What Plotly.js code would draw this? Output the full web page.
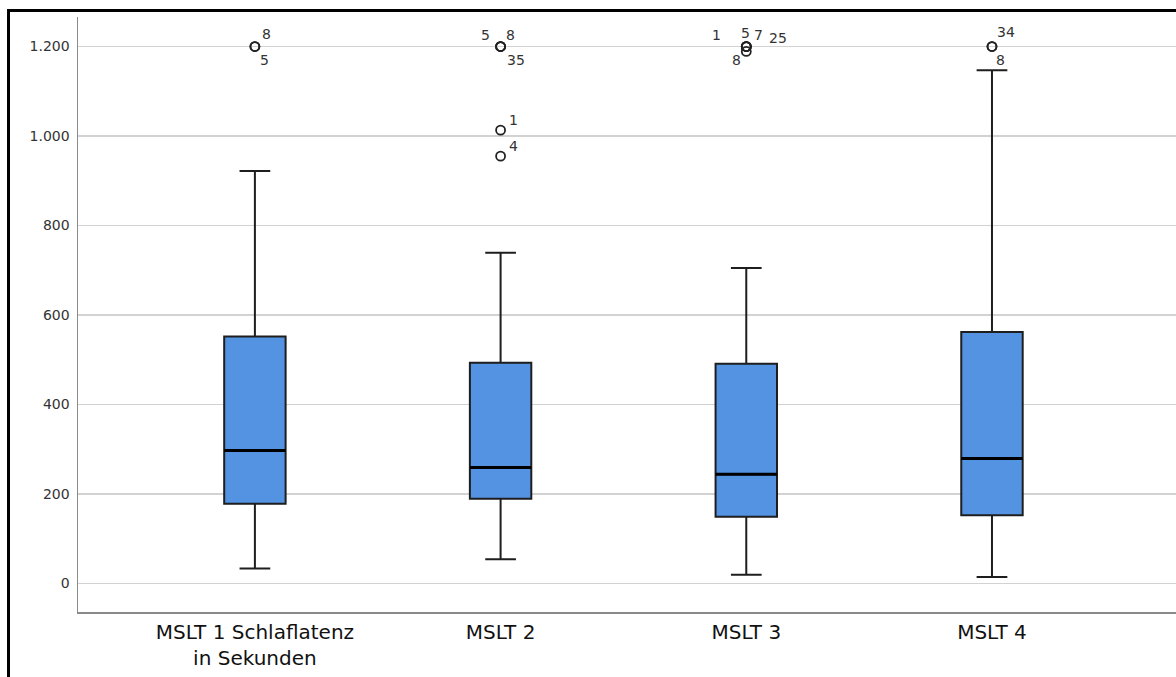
<!DOCTYPE html>
<html>
<head>
<meta charset="utf-8">
<script src="https://cdn.plot.ly/plotly-3.0.1.min.js"></script>
<style>
  html, body { margin: 0; padding: 0; background: #fff; overflow: hidden; }
  #chart { position: absolute; left: 0; top: 0; width: 1176px; height: 677px; }
  #frame { position: absolute; left: 7px; top: 9px; width: 1300px; height: 800px;
           border-left: 3px solid #000; border-top: 3px solid #000; pointer-events: none; }
</style>
</head>
<body>
<div id="chart"></div>
<div id="frame"></div>
<script>
// ---- data (seconds) ----
const categories = ["MSLT 1 Schlaflatenz<br>in Sekunden", "MSLT 2", "MSLT 3", "MSLT 4"];
const lowerWhisker = [33, 54, 19, 14];
const q1Values     = [178, 189, 149, 152];
const medianValues = [297, 259, 244, 279];
const q3Values     = [552, 493, 491, 562];
const upperWhisker = [922, 739, 705, 1147];

// outliers: category index, value, case label
const outlierCat   = [0, 0, 1, 1, 1, 1, 1, 2, 2, 2, 2, 2, 3, 3];
const outlierValue = [1200, 1200, 1200, 1200, 1200, 1013, 955, 1200, 1200, 1200, 1200, 1189, 1200, 1200];
const outlierCase  = ["8", "5", "5", "8", "35", "1", "4", "1", "5", "7", "25", "8", "34", "8"];

const yTicks = [0, 200, 400, 600, 800, 1000, 1200];

// ---- label offsets (style, pixels) ----
const labelDX = [12, 10, -15, 10, 15, 13, 13, -30, -1, 12, 32, -10, 14, 9];
const labelDY = [13, -13, 12, 12, -13, 10, 10, 12, 14, 12, 9, -9, 15, -13];

const xIdx = categories.map((c, i) => i);
const boxWidth = 0.25;

// median overlay segments
const medX = [], medY = [];
xIdx.forEach((i) => {
  medX.push(i - boxWidth / 2, i + boxWidth / 2, null);
  medY.push(medianValues[i], medianValues[i], null);
});

const boxTrace = {
  type: "box",
  x: xIdx,
  q1: q1Values,
  median: medianValues,
  q3: q3Values,
  lowerfence: lowerWhisker,
  upperfence: upperWhisker,
  width: boxWidth,
  whiskerwidth: 0.5,
  fillcolor: "#5393e2",
  line: { color: "#1e1e1e", width: 2 },
  boxpoints: false,
  hoverinfo: "skip",
  showlegend: false
};

const medianTrace = {
  type: "scatter",
  mode: "lines",
  x: medX,
  y: medY,
  line: { color: "#000", width: 3 },
  hoverinfo: "skip",
  showlegend: false
};

const outlierTrace = {
  type: "scatter",
  mode: "markers",
  x: outlierCat,
  y: outlierValue,
  marker: { symbol: "circle-open", size: 9, color: "#222", line: { width: 1.8, color: "#222" } },
  hoverinfo: "skip",
  showlegend: false
};

const annotations = outlierCase.map((t, k) => ({
  x: outlierCat[k],
  y: outlierValue[k],
  xref: "x",
  yref: "y",
  text: t,
  showarrow: false,
  xshift: labelDX[k],
  yshift: labelDY[k],
  font: { family: "DejaVu Sans", size: 14, color: "#333" }
}));

const layout = {
  width: 1176,
  height: 677,
  margin: { l: 78, r: 0, t: 17, b: 65 },
  paper_bgcolor: "#fff",
  plot_bgcolor: "#fff",
  separators: ",.",
  showlegend: false,
  xaxis: {
    range: [-0.72, 3.749],
    tickvals: xIdx,
    ticktext: categories,
    showgrid: false,
    zeroline: false,
    showline: true,
    linecolor: "#8a8a8a",
    linewidth: 1.5,
    ticks: "",
    ticklabelstandoff: 1,
    tickfont: { family: "DejaVu Sans", size: 20, color: "#111" }
  },
  yaxis: {
    range: [-64, 1266],
    tickvals: yTicks,
    tickformat: ",d",
    showgrid: true,
    gridcolor: "#d2d2d2",
    gridwidth: 1.5,
    zeroline: false,
    showline: true,
    linecolor: "#8a8a8a",
    linewidth: 1.5,
    ticks: "",
    ticklabelstandoff: 4,
    tickfont: { family: "DejaVu Sans", size: 14, color: "#333" }
  },
  annotations: annotations
};

Plotly.newPlot("chart", [boxTrace, medianTrace, outlierTrace], layout, { staticPlot: true, displayModeBar: false });
</script>
</body>
</html>
